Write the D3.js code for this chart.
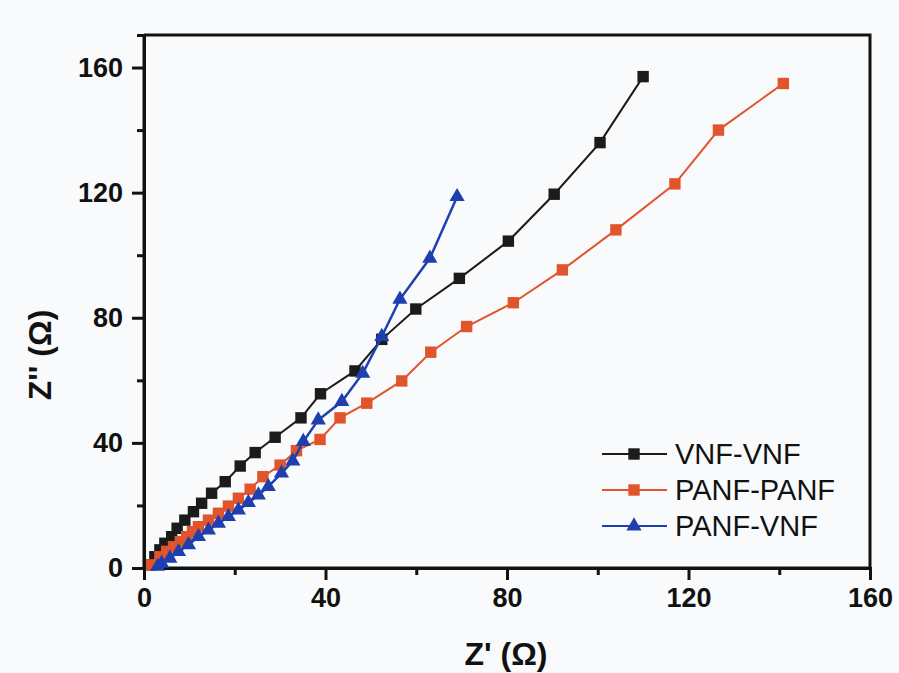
<!DOCTYPE html>
<html>
<head>
<meta charset="utf-8">
<script src="https://cdn.jsdelivr.net/npm/d3@7"></script>
<style>
  html, body { margin: 0; padding: 0; background: #f8fafb; }
  svg { display: block; }
  text { font-family: "Liberation Sans", Arial, sans-serif; fill: #111; }
</style>
</head>
<body>
<svg id="chart" width="899" height="673"></svg>
<script>
// Nyquist plot data: Z' (real part) and Z'' (imaginary part), in ohms
const seriesNames = ["VNF-VNF", "PANF-PANF", "PANF-VNF"];
const seriesColors = ["#1b1b1b", "#e2542c", "#1f3fae"];
const seriesSymbols = ["square", "square", "triangle"];

const vnfVnfX = [1.5, 2.4, 3.5, 4.6, 6.1, 7.3, 9.0, 10.9, 12.7, 14.9, 17.9, 21.2, 24.5, 28.9, 34.6, 38.9, 46.5, 52.4, 59.9, 69.5, 80.3, 90.4, 100.5, 110.0];
const vnfVnfY = [1.0, 3.6, 5.8, 7.9, 10.0, 12.7, 15.3, 18.0, 20.7, 23.9, 27.6, 32.6, 36.9, 41.8, 48.0, 55.7, 63.0, 73.1, 82.8, 92.6, 104.5, 119.5, 136.0, 157.1];

const panfPanfX = [1.7, 3.5, 5.0, 6.5, 8.0, 9.4, 10.7, 12.0, 14.2, 16.4, 18.6, 20.8, 23.4, 26.2, 30.0, 33.6, 38.8, 43.2, 49.1, 56.8, 63.2, 71.1, 81.4, 92.2, 104.0, 117.0, 126.6, 140.9];
const panfPanfY = [1.0, 3.6, 5.3, 6.8, 8.4, 10.0, 11.6, 13.2, 15.3, 17.5, 19.8, 22.3, 25.2, 29.2, 32.9, 37.5, 41.1, 48.0, 52.7, 59.8, 69.0, 77.2, 84.8, 95.3, 108.1, 122.8, 140.0, 154.9];

const panfVnfX = [3.0, 3.9, 5.7, 7.6, 9.8, 12.0, 14.2, 16.4, 18.6, 20.8, 23.0, 25.2, 27.4, 30.3, 32.8, 35.1, 38.4, 43.6, 48.2, 52.4, 56.4, 63.0, 69.0];
const panfVnfY = [0.5, 1.5, 3.1, 5.2, 7.4, 10.0, 12.1, 14.3, 16.4, 18.5, 20.9, 23.3, 26.0, 30.3, 34.2, 40.4, 47.3, 53.2, 62.2, 74.0, 85.9, 99.0, 118.7];

const xTicks = [0, 40, 80, 120, 160];
const yTicks = [0, 40, 80, 120, 160];
const xMinorTicks = [20, 60, 100, 140];
const yMinorTicks = [20, 60, 100, 140];
const xTitle = "Z' (Ω)";
const yTitle = "Z'' (Ω)";

const seriesX = [vnfVnfX, panfPanfX, panfVnfX];
const seriesY = [vnfVnfY, panfPanfY, panfVnfY];

const svg = d3.select("#chart");
const plotLeft = 144, plotRight = 870, plotTop = 35, plotBottom = 568;

const x = d3.scaleLinear().domain([0, 160]).range([plotLeft, plotRight]);
const y = d3.scaleLinear().domain([0, 170.4]).range([plotBottom, plotTop]);

// frame (top and right edges)
svg.append("path")
  .attr("d", `M${plotLeft},${plotTop}H${plotRight}V${plotBottom}`)
  .attr("fill", "none").attr("stroke", "#111").attr("stroke-width", 3);

// axes with outward ticks
const xAxis = svg.append("g").attr("transform", `translate(0,${plotBottom})`)
  .call(d3.axisBottom(x).tickValues(xTicks).tickSize(12).tickPadding(8).tickFormat(d3.format("d")));
const xMinor = svg.append("g").attr("transform", `translate(0,${plotBottom})`)
  .call(d3.axisBottom(x).tickValues(xMinorTicks).tickSize(7).tickFormat(""));
const yAxis = svg.append("g").attr("transform", `translate(${plotLeft},0)`)
  .call(d3.axisLeft(y).tickValues(yTicks).tickSize(12).tickPadding(9).tickFormat(d3.format("d")));
const yMinor = svg.append("g").attr("transform", `translate(${plotLeft},0)`)
  .call(d3.axisLeft(y).tickValues(yMinorTicks).tickSize(7).tickFormat(""));

[xAxis, xMinor, yAxis, yMinor].forEach(g => {
  g.select(".domain").attr("stroke", "#111").attr("stroke-width", 3);
  g.selectAll(".tick line").attr("stroke", "#111").attr("stroke-width", 3);
  g.selectAll(".tick text")
    .attr("fill", "#111")
    .style("font-family", "'Liberation Sans', Arial, sans-serif")
    .style("font-size", "27px")
    .style("font-weight", "bold");
});
// spines span the full plot box
yAxis.select(".domain").attr("d", `M0,${plotTop}V${plotBottom}`);
xAxis.select(".domain").attr("d", `M${plotLeft},0H${plotRight}`);

// axis titles
svg.append("text")
  .attr("x", 506).attr("y", 665)
  .attr("text-anchor", "middle")
  .style("font-size", "32px").style("font-weight", "bold")
  .text(xTitle);
svg.append("text")
  .attr("transform", `translate(51,355) rotate(-90)`)
  .attr("text-anchor", "middle")
  .style("font-size", "32px").style("font-weight", "bold")
  .text(yTitle);

const symbolFor = s => s === "triangle" ? d3.symbolTriangle : d3.symbolSquare;
const symbolSize = s => s === "triangle" ? 100 : 130;

const line = d3.line().x(d => x(d[0])).y(d => y(d[1]));

seriesNames.forEach((name, i) => {
  const pts = seriesX[i].map((v, j) => [v, seriesY[i][j]]);
  const g = svg.append("g");
  g.append("path")
    .datum(pts)
    .attr("d", line)
    .attr("fill", "none")
    .attr("stroke", seriesColors[i])
    .attr("stroke-width", i === 2 ? 2.5 : 2);
  g.selectAll("path.mark")
    .data(pts)
    .join("path")
    .attr("class", "mark")
    .attr("transform", d => `translate(${x(d[0])},${y(d[1])})`)
    .attr("d", d3.symbol().type(symbolFor(seriesSymbols[i])).size(symbolSize(seriesSymbols[i])))
    .attr("fill", seriesColors[i]);
});

// legend
const legend = svg.append("g");
const legendRows = [454, 490, 526];
seriesNames.forEach((name, i) => {
  const ly = legendRows[i];
  legend.append("line")
    .attr("x1", 602).attr("x2", 667).attr("y1", ly).attr("y2", ly)
    .attr("stroke", seriesColors[i]).attr("stroke-width", 2);
  legend.append("path")
    .attr("transform", `translate(634,${ly})`)
    .attr("d", d3.symbol().type(symbolFor(seriesSymbols[i])).size(symbolSize(seriesSymbols[i])))
    .attr("fill", seriesColors[i]);
  legend.append("text")
    .attr("x", 675).attr("y", ly + 10)
    .style("font-size", "29px")
    .text(name);
});
</script>
</body>
</html>
